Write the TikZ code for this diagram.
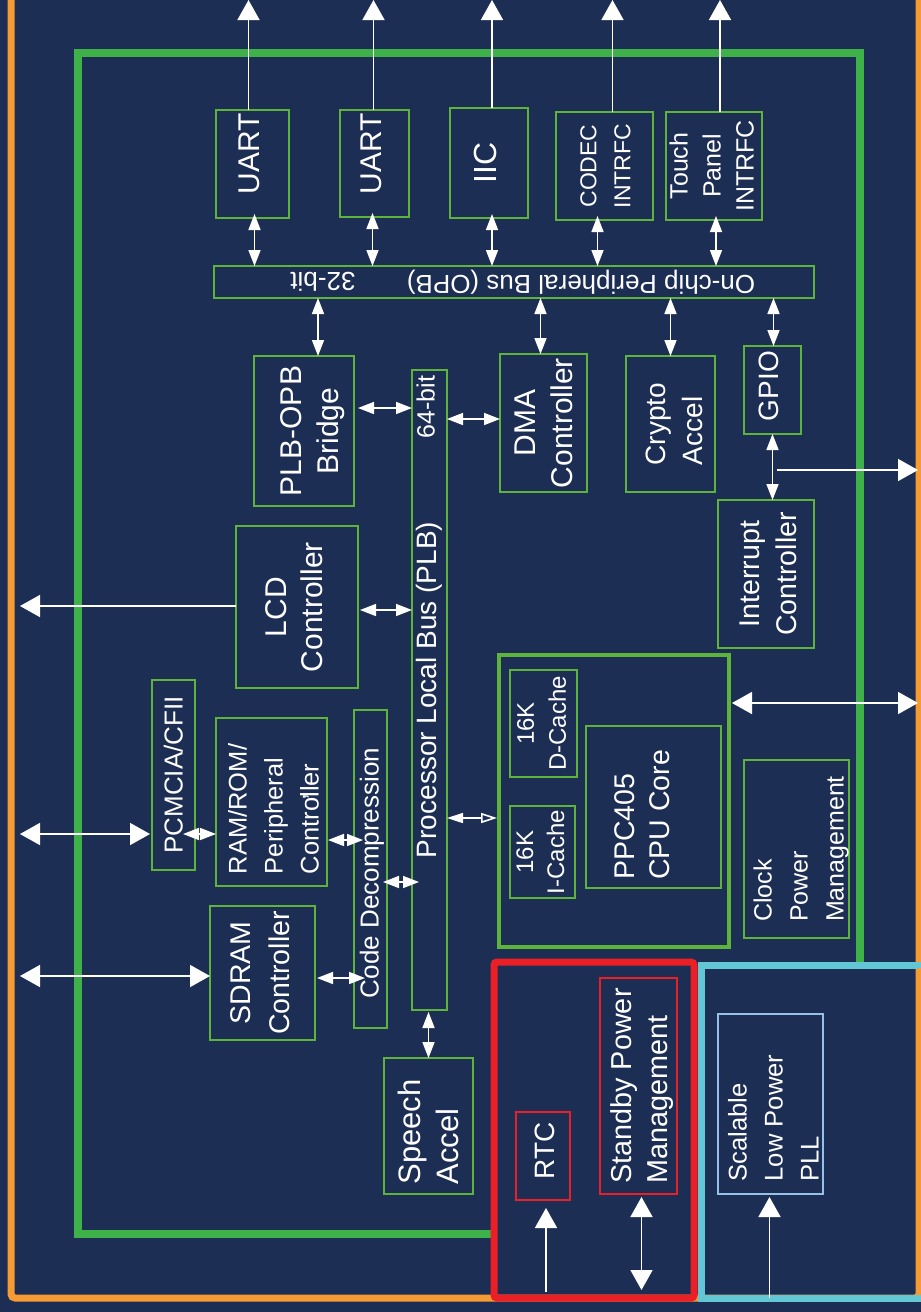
\documentclass[tikz,border=0pt]{standalone}
\usepackage{fontspec}
\setmainfont{Liberation Sans}
\usepackage{graphicx}
\usetikzlibrary{arrows.meta,calc}
\definecolor{Navy}{RGB}{29,46,84}
\definecolor{Frame}{RGB}{62,178,73}
\definecolor{Leaf}{RGB}{94,180,58}
\definecolor{Amber}{RGB}{246,155,52}
\definecolor{Alarm}{RGB}{234,32,38}
\definecolor{Teal}{RGB}{98,198,212}
\definecolor{Sky}{RGB}{150,192,232}
\newcommand{\fsz}[2]{\fontsize{#1}{#2}\selectfont}
% rotated text of zero size, nudged by #2 (right) and #3 (up)
\newcommand{\uptext}[4]{\makebox[0pt]{\hspace*{#2}\raisebox{\dimexpr#3-0.5\height\relax}[0pt][0pt]{\rotatebox{90}{\begin{tabular}{@{}#1@{}}#4\end{tabular}}}\hspace*{-#2}}}
\begin{document}
\begin{tikzpicture}[x=1pt,y=-1pt,
  box/.style={draw=Leaf,line width=2pt,inner sep=0pt,outer sep=0pt,text=white},
  sz/.style 2 args={minimum width=#1pt,minimum height=#2pt},
  ext/.style={draw=white,line width=1.6pt,>={Triangle[length=20pt,width=22pt]}},
  link/.style={draw=white,line width=1.6pt,>={Triangle[length=16pt,width=12pt]}},
  lbl/.style={text=white,inner sep=0pt}]
\useasboundingbox (0,0) rectangle (921,1312);
\clip (0,0) rectangle (921,1312);
\fill[Navy] (0,0) rectangle (921,1312);
% frames
\draw[Amber,line width=7pt,rounded corners=4pt] (11,-30) -- (11,1298) -- (919,1298) -- (919,-30);
\draw[Frame,line width=8pt] (497,1234) -- (78,1234) -- (78,53) -- (860,53) -- (860,964);
\draw[Alarm,line width=7pt,rounded corners=3pt] (494,962) rectangle (694,1298);
\draw[Teal,line width=7pt] (701,965) rectangle (960,1298);
\draw[Amber,line width=3pt] (919.5,968) -- (919.5,1294);
\coordinate (skyline) at (0,0);
\coordinate (westedge) at (20,0);
\coordinate (eastedge) at (918,0);
\coordinate (redfloor) at (0,1292);
\coordinate (tealfloor) at (0,1298);

% OPB peripherals
\node[box,sz={73}{108},font={\fsz{30}{37}}] (uart1) at (252.5,164) {\uptext{c}{0pt}{10pt}{UART}};
\node[box,sz={69}{107},font={\fsz{30}{37}}] (uart2) at (374.5,163.5) {\uptext{c}{0pt}{10pt}{UART}};
\node[box,sz={78}{110},font={\fsz{32}{37}}] (iic) at (489,163) {\uptext{c}{0pt}{0pt}{IIC}};
\node[box,sz={97}{108},font={\fsz{23}{34}}] (codec) at (604.5,166) {\uptext{c}{2pt}{0pt}{CODEC\\INTRFC}};
\node[box,sz={96}{108},font={\fsz{25}{33}}] (touch) at (714,166) {\uptext{c}{0pt}{0pt}{Touch\\Panel\\INTRFC}};
\node[box,sz={600}{32}] (opb) at (514,282) {};
\node[lbl,rotate=180,font={\fsz{26}{30}}] (opbname) at (581,282) {On-chip Peripheral Bus (OPB)};
\node[lbl,rotate=180,font={\fsz{26}{30}}] (opbwidth) at (323,282) {32-bit};

% PLB side
\node[box,sz={100}{150},font={\fsz{30}{37}}] (bridge) at (304,431) {\uptext{c}{9pt}{0pt}{PLB-OPB\\Bridge}};
\node[box,sz={35}{640},font={\fsz{28}{32}}] (plb) at (429.5,690) {\uptext{c}{1pt}{0pt}{Processor Local Bus (PLB)}};
\node[lbl,font={\fsz{25}{28}}] (plbwidth) at (429,407) {\uptext{c}{0pt}{0pt}{64-bit}};
\node[box,sz={87}{138},font={\fsz{30}{37}}] (dma) at (543.5,423) {\uptext{c}{3pt}{0pt}{DMA\\Controller}};
\node[box,sz={89}{136},font={\fsz{28}{37}}] (crypto) at (670.5,424) {\uptext{l}{6pt}{0pt}{Crypto\\Accel}};
\node[box,sz={57}{88},font={\fsz{28}{32}}] (gpio) at (772.5,390) {\uptext{c}{0pt}{4pt}{GPIO}};
\node[box,sz={96}{148},font={\fsz{28.5}{37}}] (intc) at (766,574) {\uptext{c}{5pt}{0pt}{Interrupt\\Controller}};
\node[box,sz={122}{162},font={\fsz{30}{36}}] (lcd) at (297,607) {\uptext{c}{0pt}{0pt}{LCD\\Controller}};
\node[box,sz={43}{190},font={\fsz{26}{30}}] (pcmcia) at (173.5,775) {\uptext{c}{3pt}{0pt}{PCMCIA/CFII}};
\node[box,sz={111}{168},font={\fsz{25.5}{36}}] (ram) at (271.5,802) {\uptext{l}{4pt}{-7pt}{RAM/ROM/\\Peripheral\\Controller}};
\node[lbl,font={\fsz{25}{28}}] (ramcomma) at (300,797) {\uptext{c}{0pt}{0pt}{,}};
\node[box,sz={33}{318},font={\fsz{26}{30}}] (code) at (370.5,869) {\uptext{c}{2pt}{-4pt}{Code Decompression}};
\node[box,sz={105}{134},font={\fsz{28.5}{39}}] (sdram) at (262.5,973) {\uptext{c}{0pt}{0pt}{SDRAM\\Controller}};
\node[box,sz={89}{136},font={\fsz{31}{38}}] (speech) at (428.5,1126) {\uptext{l}{3pt}{-6pt}{Speech\\Accel}};

% CPU block
\node[box,line width=4pt,sz={230}{292}] (cpu) at (614,801) {};
\node[box,sz={67}{107},font={\fsz{24}{32}}] (dcache) at (543.5,723.5) {\uptext{c}{0pt}{0pt}{16K\\D-Cache}};
\node[box,sz={65}{92},font={\fsz{24}{31}}] (icache) at (542.5,852) {\uptext{c}{0pt}{0pt}{16K\\I-Cache}};
\node[box,sz={135}{162},font={\fsz{28.5}{35}}] (core) at (653.5,807) {\uptext{l}{-9pt}{-8pt}{PPC405\\CPU Core}};
\node[box,sz={105}{178},font={\fsz{25}{36}}] (clock) at (796.5,849) {\uptext{l}{4pt}{0pt}{Clock\\Power\\Management}};

% standby and PLL
\node[box,draw=Alarm,line width=1.5pt,sz={54}{88},font={\fsz{28}{32}}] (rtc) at (543,1156) {\uptext{c}{5pt}{5pt}{RTC}};
\node[box,draw=Alarm,line width=1.5pt,sz={77}{216},font={\fsz{28.8}{36}}] (standby) at (638.5,1086) {\uptext{l}{4pt}{0pt}{Standby Power\\Management}};
\node[box,draw=Sky,line width=1.5pt,sz={105}{180},font={\fsz{25.6}{36}}] (pll) at (770.5,1104) {\uptext{l}{5pt}{-14pt}{Scalable\\Low Power\\PLL}};

% connectors
\foreach \n/\dx in {uart1/-4,uart2/-1,iic/3,codec/8,touch/6}
  \draw[ext,->] ($(\n.north)+(\dx,0)$) -- ($(\n.north |- skyline)+(\dx,0)$);
\foreach \n/\dx in {uart1/2,uart2/-2,iic/3,codec/-7,touch/2}
  \draw[link,<->] ($(\n.south)+(\dx,-4)$) -- ($(\n.south |- opb.north)+(\dx,0)$);
\foreach \n/\dx in {bridge/14,dma/-3,crypto/0,gpio/1}
  \draw[link,<->] ($(\n.north)+(\dx,0)$) -- ($(\n.north |- opb.south)+(\dx,0)$);
\draw[link,<->] ($(bridge.east)+(4,-23)$) -- ($(bridge.east -| plb.west)+(0,-23)$);
\draw[link,<->] ($(dma.west)+(0,-4)$) -- ($(dma.west -| plb.east)+(0,-4)$);
\draw[link,<->] ($(lcd.east)+(2,3)$) -- ($(lcd.east -| plb.west)+(0,3)$);
\draw[ext,->] ($(lcd.west)+(0,-1)$) -- ($(lcd.west -| westedge)+(0,-1)$);
\draw[link,<->] (gpio.south) -- (gpio.south |- intc.north);
\coordinate (irqtap) at ($(gpio.south)!.5!(gpio.south |- intc.north)+(0,3)$);
\draw[ext,->] ($(irqtap)+(4,0)$) -- (irqtap -| eastedge);
\draw[ext,<->] ($(cpu.east)+(3,-98)$) -- ($(cpu.east -| eastedge)+(0,-98)$);
\draw[link,{Triangle[length=16pt,width=10pt]}-{Triangle[open,length=16pt,width=10pt]}]
  ($(cpu.west -| plb.east)+(0,17)$) -- ($(cpu.west)+(-2,17)$);
\draw[ext,<->] ($(pcmcia.west)+(-2,59)$) -- ($(pcmcia.west -| westedge)+(0,59)$);
\draw[link,<->] ($(pcmcia.east)+(-12,59)$) -- ($(pcmcia.east -| ram.west)+(0,59)$);
\draw[link,<->] ($(ram.east)+(1,38)$) -- ($(ram.east -| code.west)+(9,38)$);
\draw[link,<->] ($(code.east)+(-4,13)$) -- ($(code.east -| plb.west)+(7,13)$);
\draw[link,<->] ($(sdram.east)+(2,5)$) -- ($(sdram.east -| code.west)+(11,5)$);
\draw[ext,<->] ($(sdram.west)+(0,3)$) -- ($(sdram.west -| westedge)+(0,3)$);
\draw[link,<->] ($(plb.south)+(-1,2)$) -- ($(plb.south |- speech.north)+(-1,0)$);
\draw[ext,->] ($(rtc.south |- redfloor)+(3,0)$) -- ($(rtc.south)+(3,8)$);
\draw[ext,<->] ($(standby.south)+(3,3)$) -- ($(standby.south |- redfloor)+(3,-2)$);
\draw[ext,->] ($(pll.south |- tealfloor)+(-1,0)$) -- ($(pll.south)+(-1,3)$);
\end{tikzpicture}
\end{document}
